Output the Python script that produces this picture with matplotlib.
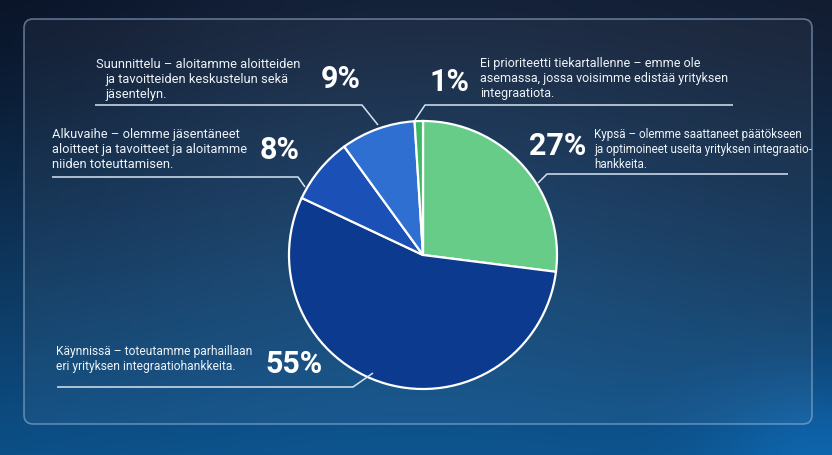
#!/usr/bin/env python3
# Integraation kypsyys - pie chart on dark blue panel

import numpy as np
import matplotlib
matplotlib.use('Agg')
import matplotlib.pyplot as plt
from matplotlib import font_manager as fm
from matplotlib.patches import FancyBboxPatch
from matplotlib.colors import to_rgb

# data (clockwise from 12 o'clock)
stages = ['Kypsä', 'Käynnissä', 'Alkuvaihe', 'Suunnittelu', 'Ei prioriteetti']
shares = [27, 55, 8, 9, 1]
descriptions = [
    ['Kypsä – olemme saattaneet päätökseen',
     'ja optimoineet useita yrityksen integraatio-',
     'hankkeita.'],
    ['Käynnissä – toteutamme parhaillaan',
     'eri yrityksen integraatiohankkeita.'],
    ['Alkuvaihe – olemme jäsentäneet',
     'aloitteet ja tavoitteet ja aloitamme',
     'niiden toteuttamisen.'],
    ['Suunnittelu – aloitamme aloitteiden',
     'ja tavoitteiden keskustelun sekä',
     'jäsentelyn.'],
    ['Ei prioriteetti tiekartallenne – emme ole',
     'asemassa, jossa voisimme edistää yrityksen',
     'integraatiota.'],
]
colors = ['#67cc88', '#0b3a8e', '#1b50b6', '#2e6fd1', '#3db863']

W, H = 832, 455

# layout in pixels (y measured from top): text x per line, first baseline,
# percent centre, leader line (start on pie -> elbow -> end), text scale
layout = [
    dict(tx=[594, 594, 594], ty=138, px=558, py=146, fs=0.9,
         lead=[(538, 183), (547, 174), (788, 174)]),
    dict(tx=[56, 56], ty=355, px=294, py=364, fs=0.93,
         lead=[(373, 373), (353, 387), (57, 387)]),
    dict(tx=[52, 52, 52], ty=138, px=280, py=150, fs=1.0,
         lead=[(305, 187), (298, 177), (52, 177)]),
    dict(tx=[96, 105, 105], ty=68, px=341, py=79, fs=1.0,
         lead=[(378, 125), (362, 105), (95, 105)]),
    dict(tx=[480, 480, 480], ty=67, px=449, py=82, fs=0.97,
         lead=[(415, 120), (425, 105), (733, 105)]),
]

names = {f.name for f in fm.fontManager.ttflist}
body_font = 'Liberation Sans Narrow' if 'Liberation Sans Narrow' in names else 'Roboto'
body_size = 10.2 if body_font == 'Liberation Sans Narrow' else 9.3
big_font = 'Roboto'


def Y(y):
    return H - y


fig = plt.figure(figsize=(W / 100, H / 100), dpi=100)
ax = fig.add_axes([0, 0, 1, 1])

# background gradient
yy, xx = np.mgrid[0:H, 0:W]
t = (yy / H) ** 1.3
top = np.array(to_rgb('#121c30'))
bot = np.array(to_rgb('#0b4f86'))
img = top[None, None, :] * (1 - t[..., None]) + bot[None, None, :] * t[..., None]
# soft lighter glow towards the centre and the lower right corner
g1 = np.exp(-(((xx - 420) / 330) ** 2 + ((yy - 230) / 260) ** 2))
g2 = np.exp(-(((xx - 820) / 110) ** 2 + ((yy - 450) / 80) ** 2))
img = img + g1[..., None] * np.array([0.02, 0.05, 0.08]) + g2[..., None] * np.array([0.01, 0.08, 0.14])
# darker left-top corner
g3 = np.exp(-(((xx - 0) / 200) ** 2 + ((yy - 0) / 220) ** 2))
img = img - g3[..., None] * 0.03
ax.imshow(np.clip(img, 0, 1), extent=(0, W, 0, H), origin='upper', zorder=0, aspect='auto')

panel = FancyBboxPatch((24, Y(424)), 788, 405, boxstyle='round,pad=0,rounding_size=9',
                       facecolor=(1, 1, 1, 0.045), edgecolor=(0.62, 0.72, 0.85, 0.55),
                       linewidth=1.2, zorder=1)
ax.add_patch(panel)

ax.pie(shares, colors=colors, startangle=90, counterclock=False,
       center=(423, Y(255)), radius=134,
       wedgeprops=dict(edgecolor='white', linewidth=1.6, zorder=3))

txt_color = '#eef3f8'
for i, lay in enumerate(layout):
    for j, line in enumerate(descriptions[i]):
        ax.text(lay['tx'][j], Y(lay['ty'] + j * 15), line, color=txt_color,
                fontsize=body_size * lay['fs'], family=[body_font, 'DejaVu Sans'],
                va='baseline', ha='left', zorder=5)
    ax.text(lay['px'], Y(lay['py']), f'{shares[i]}%', color='white', fontsize=22,
            fontweight='bold', family=[big_font, 'DejaVu Sans'], va='center', ha='center', zorder=5)
    xs = [p[0] for p in lay['lead']]
    ys = [Y(p[1]) for p in lay['lead']]
    ax.plot(xs, ys, color='#d6e4f2', linewidth=1.1, zorder=4, solid_capstyle='butt')

ax.set_xlim(0, W)
ax.set_ylim(0, H)
ax.set_aspect('auto')
ax.axis('off')

fig.savefig('out.png', dpi=100)
